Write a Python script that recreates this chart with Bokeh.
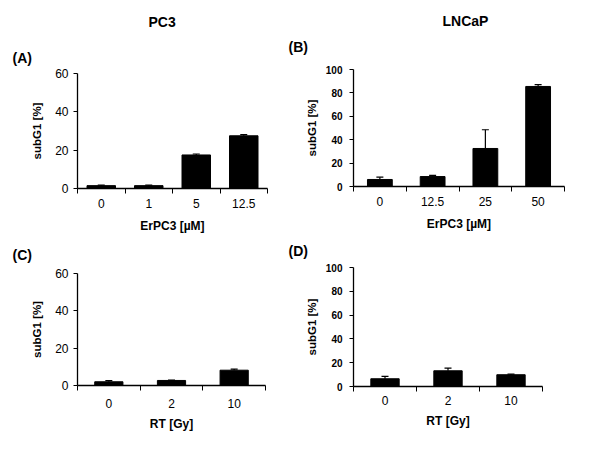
from bokeh.plotting import figure
from bokeh.layouts import column, row
from bokeh.models import Range1d, FixedTicker, Title, Whisker, TeeHead, ColumnDataSource
from bokeh.embed import file_html
from bokeh.resources import INLINE

FONT = "Liberation Sans"

# ---- data ----
a_cats = ["0", "1", "5", "12.5"]
a_vals = [1.5, 1.5, 17.5, 27.5]
a_errs = [0.3, 0.3, 0.5, 0.6]

b_cats = ["0", "12.5", "25", "50"]
b_vals = [6.0, 8.5, 32.5, 85.5]
b_errs = [2.0, 1.0, 16.0, 1.5]

c_cats = ["0", "2", "10"]
c_vals = [2.0, 2.7, 8.2]
c_errs = [0.6, 0.2, 0.6]

d_cats = ["0", "2", "10"]
d_vals = [6.5, 13.2, 9.9]
d_errs = [2.0, 2.3, 0.5]

pc_ticks = [0, 20, 40, 60]
ln_ticks = [0, 20, 40, 60, 80, 100]


def make_title(text, offset, standoff, valign):
    return dict(text=text, align="left", offset=offset, standoff=standoff,
                vertical_align=valign, text_font=FONT, text_font_size="14px",
                text_font_style="bold", text_color="black")


def panel(cats, vals, errs, ymax, yticks, xlabel, bar_w, fw, fh, borders,
          ytick_size, ytick_style, ytick_standoff, ylab_standoff,
          xtick_standoff, xlab_standoff, letter, head=None):
    left, right, top, bottom = borders
    p = figure(frame_width=fw, frame_height=fh, output_backend="svg",
               toolbar_location=None, x_range=Range1d(0, len(cats)),
               y_range=Range1d(0, ymax),
               min_border_left=left, min_border_right=right,
               min_border_top=top, min_border_bottom=bottom)
    p.outline_line_color = None
    p.xgrid.grid_line_color = None
    p.ygrid.grid_line_color = None
    p.background_fill_color = "white"
    p.border_fill_color = "white"

    # outermost title: column heading (or the letter when there is none)
    outer = head if head is not None else letter
    for k, v in make_title(*outer).items():
        setattr(p.title, k, v)
    if head is not None:
        p.add_layout(Title(**make_title(*letter)), "above")

    xs = [i + 0.5 for i in range(len(cats))]
    src = ColumnDataSource(dict(x=xs, top=vals,
                                upper=[v + e for v, e in zip(vals, errs)]))
    p.vbar(x="x", top="top", width=bar_w, bottom=0, source=src,
           fill_color="black", line_color="black")
    w = Whisker(base="x", lower="top", upper="upper", source=src,
                line_color="black", line_width=1.2,
                upper_head=TeeHead(size=7, line_color="black", line_width=1.2),
                lower_head=None)
    p.add_layout(w)

    # x axis: ticks at category boundaries, labels at centres
    xa = p.xaxis[0]
    xa.ticker = FixedTicker(ticks=xs, minor_ticks=list(range(len(cats) + 1)))
    xa.major_label_overrides = {x: c for x, c in zip(xs, cats)}
    xa.major_tick_line_color = None
    xa.minor_tick_line_color = "black"
    xa.minor_tick_out = 5
    xa.minor_tick_in = 0
    xa.axis_line_color = "black"
    xa.axis_line_width = 1.3
    xa.major_label_text_font = FONT
    xa.major_label_text_font_size = "12px"
    xa.major_label_text_color = "black"
    xa.major_label_standoff = xtick_standoff
    xa.axis_label = xlabel
    xa.axis_label_text_font = FONT
    xa.axis_label_text_font_size = "12px"
    xa.axis_label_text_font_style = "bold"
    xa.axis_label_text_color = "black"
    xa.axis_label_standoff = xlab_standoff

    ya = p.yaxis[0]
    ya.ticker = FixedTicker(ticks=yticks, minor_ticks=[])
    ya.major_tick_out = 4
    ya.major_tick_in = 0
    ya.major_tick_line_color = "black"
    ya.minor_tick_line_color = None
    ya.axis_line_color = "black"
    ya.axis_line_width = 1.3
    ya.major_label_text_font = FONT
    ya.major_label_text_font_size = ytick_size
    ya.major_label_text_font_style = ytick_style
    ya.major_label_text_color = "black"
    ya.major_label_standoff = ytick_standoff
    ya.axis_label = "subG1 [%]"
    ya.axis_label_text_font = FONT
    ya.axis_label_text_font_size = "11.5px"
    ya.axis_label_text_font_style = "bold"
    ya.axis_label_text_color = "black"
    ya.axis_label_standoff = ylab_standoff
    return p


p1 = panel(a_cats, a_vals, a_errs, 60, pc_ticks, "ErPC3 [µM]", 0.6,
           190, 115, (77, 18, 73, 45), "12px", "normal", 5, 9, 4, 8,
           ("(A)", -65, 16, "bottom"), ("PC3", 71, 15, "top"))
p2 = panel(b_cats, b_vals, b_errs, 100, ln_ticks, "ErPC3 [µM]", 0.47,
           211, 117, (68, 28, 69, 47), "10px", "bold", 7, 5, 4, 8,
           ("(B)", -65, 30, "bottom"), ("LNCaP", 89, -14, "bottom"))
p3 = panel(c_cats, c_vals, c_errs, 60, pc_ticks, "RT [Gy]", 0.45,
           188, 112, (77, 20, 38, 57), "12px", "normal", 5, 9, 7, 6,
           ("(C)", -65, 17, "top"))
p4 = panel(d_cats, d_vals, d_errs, 100, ln_ticks, "RT [Gy]", 0.45,
           189, 119, (68, 50, 32, 56), "10px", "bold", 7, 5, 3, 6,
           ("(D)", -65, 13, "top"))

layout = column(row(column(p1), column(p2), spacing=0),
                row(column(p3), column(p4), spacing=0), spacing=0)

open("out.html", "w").write(file_html(layout, INLINE))
